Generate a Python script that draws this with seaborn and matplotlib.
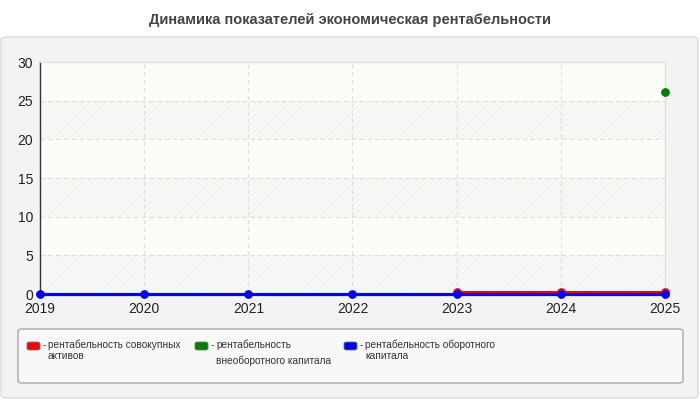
import matplotlib
matplotlib.use('Agg')
import matplotlib.pyplot as plt
import seaborn as sns
import numpy as np
from matplotlib.patches import FancyBboxPatch

# данные
years = [2019, 2020, 2021, 2022, 2023, 2024, 2025]
rent_total = [np.nan, np.nan, np.nan, np.nan, 0.2, 0.2, 0.2]
rent_fixed = [np.nan, np.nan, np.nan, np.nan, np.nan, np.nan, 26.1]
rent_current = [0, 0, 0, 0, 0, 0, 0]

series_names = ['рентабельность совокупных\nактивов',
                'рентабельность\nвнеоборотного капитала',
                'рентабельность оборотного\nкапитала']
series_values = [rent_total, rent_fixed, rent_current]
series_colors = ['#ff0000', '#008000', '#0000ff']

title = 'Динамика показателей экономическая рентабельности'

sns.set_style('white')
plt.rcParams['font.family'] = ['Liberation Sans', 'DejaVu Sans']
plt.rcParams['hatch.linewidth'] = 0.6

W, H = 700, 400


def px(x, y):
    return x / W, 1 - y / H


fig = plt.figure(figsize=(7, 4), dpi=100)
fig.patch.set_facecolor('white')

# серая панель
panel = FancyBboxPatch(px(1, 398), 697 / W, 361 / H, boxstyle='round,pad=0,rounding_size=0.008',
                       transform=fig.transFigure, facecolor='#f3f3f3', edgecolor='#dcdcdc',
                       linewidth=1, zorder=0)
fig.patches.append(panel)

fig.text(0.5, px(0, 20)[1], title, ha='center', va='center', fontsize=10.5,
         fontweight='bold', color='#444444')

l, b = px(40, 294)
r, t = px(665, 62)
ax = fig.add_axes([l, b, r - l, t - b])
ax.set_zorder(3)
ax.set_facecolor('#fdfdf8')

# полосы с штриховкой
for lo in [0, 10, 20]:
    ax.axhspan(lo, lo + 5, facecolor='#f4f4f2', edgecolor='#ffffff', hatch='//////',
               linewidth=0, zorder=0)

ax.grid(True, color='#dddddd', linestyle=(0, (4, 3)), linewidth=0.8, zorder=1)
ax.set_axisbelow(True)

for vals, color in zip(series_values, series_colors):
    sns.lineplot(x=years, y=vals, color=color, marker='o', markersize=5.5,
                 markeredgecolor=color, linewidth=2.3, ax=ax, clip_on=False, zorder=3)

ax.set_xlim(2019, 2025)
ax.set_ylim(0, 30)
ax.set_xticks(years)
ax.set_yticks(range(0, 31, 5))
ax.tick_params(axis='both', labelsize=10, colors='#222222', length=4, width=0.8,
               direction='out', pad=1)
ax.tick_params(axis='x', length=3, pad=3)
for side in ['top', 'right']:
    ax.spines[side].set_color('#dddddd')
for side in ['left', 'bottom']:
    ax.spines[side].set_color('#333333')
    ax.spines[side].set_linewidth(1)

# легенда
box = FancyBboxPatch(px(18, 383), 665 / W, 54 / H, boxstyle='round,pad=0,rounding_size=0.006',
                     transform=fig.transFigure, facecolor='#f8f8f8', edgecolor='#a8a8a8',
                     linewidth=1, zorder=1)
fig.patches.append(box)

patch_x = [27, 195, 344]
line_sp = [1.1, 1.6, 1.1]
for name, color, x0, ls in zip(series_names, series_colors, patch_x, line_sp):
    sw = FancyBboxPatch(px(x0, 350), 13 / W, 8 / H, boxstyle='round,pad=0,rounding_size=0.004',
                        transform=fig.transFigure, facecolor=color, edgecolor='#777777',
                        linewidth=0.6, zorder=2)
    fig.patches.append(sw)
    fig.text(*px(x0 + 16, 340), '-', ha='left', va='top', fontsize=7.3, color='#333333')
    fig.text(*px(x0 + 21, 340), name, ha='left', va='top', fontsize=7.3,
             color='#333333', linespacing=ls)

fig.savefig('out.png', dpi=100)
